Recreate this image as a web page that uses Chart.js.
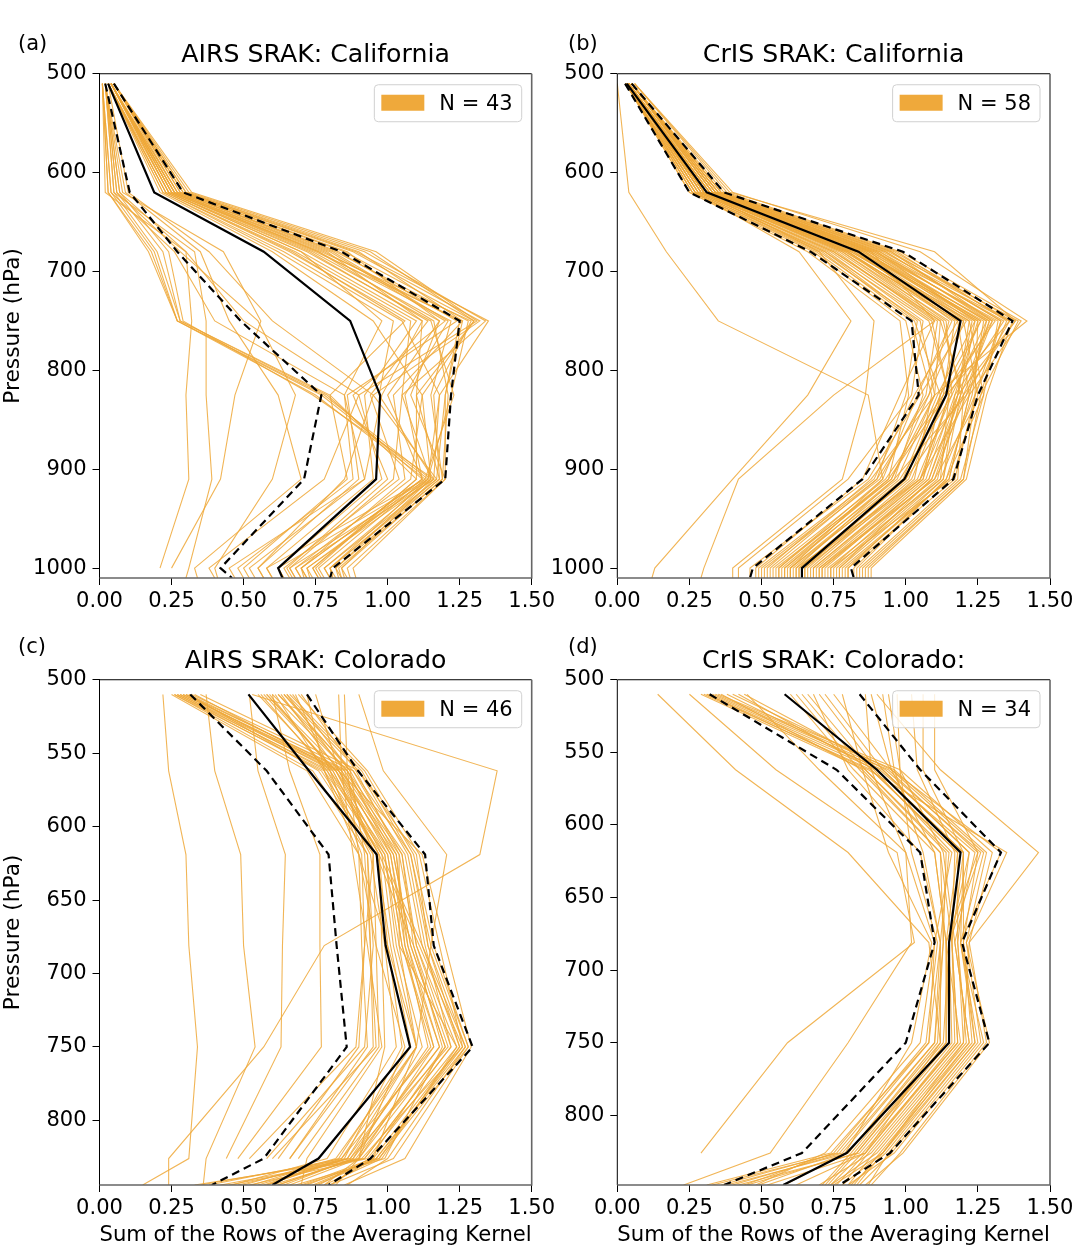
<!DOCTYPE html>
<html>
<head>
<meta charset="utf-8">
<title>SRAK profiles</title>
<script src="https://cdn.jsdelivr.net/npm/chart.js@4.4.1/dist/chart.umd.min.js"></script>
<style>
  body { margin: 0; background: #fff; width: 1076px; height: 1248px; overflow: hidden; position: relative; }
  canvas { position: absolute; left: 0; top: 0; }
</style>
</head>
<body>
<canvas id="chartA" width="1076" height="1248"></canvas>
<canvas id="chartB" width="1076" height="1248"></canvas>
<canvas id="chartC" width="1076" height="1248"></canvas>
<canvas id="chartD" width="1076" height="1248"></canvas>
<script>
// tick labels
const xTicks = [0, 0.25, 0.5, 0.75, 1.0, 1.25, 1.5];
const yTicksCA = [500, 600, 700, 800, 900, 1000];
const yTicksCO = [500, 550, 600, 650, 700, 750, 800];

// pressure levels (hPa) of each profile point; last one is the bottom edge of the plot
const levelsCA = [510, 620, 680, 750, 825, 910, 1000, 1010];
const levelsAirsCO = [510, 562, 619, 681, 750, 826, 844];
const levelsCrisCO = [510, 562, 619, 681, 750, 826, 848];

// (a) AIRS SRAK: California
const airsCAMean = [0.03, 0.19, 0.57, 0.87, 0.974, 0.96, 0.62, 0.635];
const airsCAHi   = [0.05, 0.29, 0.84, 1.25, 1.22, 1.20, 0.81, 0.80];
const airsCALo   = [0.02, 0.105, 0.27, 0.49, 0.77, 0.71, 0.42, 0.46];
const airsCA = [
  [0.03, 0.22, 0.62, 1.02, 0.97, 1.16, 0.72, 0.74],
  [0.03, 0.23, 0.66, 1.08, 1.05, 1.15, 0.78, 0.80],
  [0.04, 0.24, 0.70, 1.12, 1.10, 1.18, 0.82, 0.84],
  [0.04, 0.25, 0.74, 1.18, 1.00, 1.12, 0.70, 0.72],
  [0.04, 0.25, 0.76, 1.22, 1.15, 1.19, 0.84, 0.86],
  [0.04, 0.26, 0.78, 1.25, 1.20, 1.20, 0.86, 0.87],
  [0.05, 0.27, 0.82, 1.28, 1.22, 1.14, 0.80, 0.81],
  [0.05, 0.28, 0.85, 1.30, 1.10, 1.10, 0.75, 0.77],
  [0.05, 0.29, 0.88, 1.32, 0.95, 1.17, 0.80, 0.82],
  [0.05, 0.30, 0.92, 1.34, 1.05, 1.02, 0.66, 0.68],
  [0.05, 0.32, 0.96, 1.31, 0.90, 0.98, 0.62, 0.64],
  [0.04, 0.26, 0.80, 1.20, 0.88, 1.00, 0.65, 0.67],
  [0.04, 0.24, 0.72, 1.15, 1.23, 1.13, 0.76, 0.78],
  [0.03, 0.23, 0.68, 1.10, 0.92, 0.95, 0.58, 0.60],
  [0.03, 0.22, 0.64, 1.05, 1.18, 1.16, 0.84, 0.85],
  [0.04, 0.25, 0.75, 1.26, 1.02, 1.06, 0.70, 0.71],
  [0.04, 0.27, 0.83, 1.24, 0.86, 0.90, 0.55, 0.57],
  [0.05, 0.28, 0.86, 1.18, 1.08, 1.20, 0.88, 0.89],
  [0.04, 0.26, 0.79, 1.12, 0.98, 0.92, 0.52, 0.54],
  [0.03, 0.24, 0.70, 0.98, 0.85, 0.88, 0.48, 0.50],
  [0.03, 0.21, 0.60, 0.95, 1.12, 1.15, 0.82, 0.83],
  [0.04, 0.25, 0.77, 1.29, 1.16, 1.18, 0.80, 0.81],
  [0.05, 0.30, 0.90, 1.26, 1.20, 1.17, 0.78, 0.80],
  [0.04, 0.27, 0.81, 1.21, 1.06, 1.12, 0.74, 0.76],
  [0.05, 0.29, 0.89, 1.35, 1.18, 1.14, 0.72, 0.73],
  [0.03, 0.23, 0.67, 1.06, 0.80, 0.86, 0.50, 0.52],
  [0.04, 0.26, 0.76, 1.16, 1.21, 1.19, 0.83, 0.84],
  [0.05, 0.31, 0.94, 1.30, 1.12, 1.08, 0.68, 0.70],
  [0.04, 0.24, 0.73, 1.14, 0.94, 1.04, 0.64, 0.66],
  [0.01, 0.03, 0.18, 0.27, 0.77, 1.14, 0.62, 0.64],
  [0.01, 0.04, 0.19, 0.27, 0.78, 1.15, 0.66, 0.68],
  [0.02, 0.05, 0.20, 0.28, 0.79, 1.12, 0.70, 0.72],
  [0.01, 0.03, 0.17, 0.27, 0.75, 1.13, 0.58, 0.60],
  [0.02, 0.06, 0.22, 0.28, 0.80, 1.10, 0.74, 0.76],
  [0.02, 0.07, 0.24, 0.29, 0.74, 1.16, 0.68, 0.70],
  [0.01, 0.02, 0.30, 0.32, 0.30, 0.31, 0.21, null],
  [0.02, 0.05, 0.33, 0.37, 0.37, 0.39, 0.31, 0.30],
  [0.02, 0.08, 0.43, 0.56, 0.47, 0.42, 0.25, null],
  [0.02, 0.06, 0.28, 0.55, 0.68, 0.60, 0.40, 0.41],
  [0.02, 0.09, 0.35, 0.45, 0.62, 0.70, 0.33, 0.34],
  [0.01, 0.04, 0.26, 0.40, 0.85, 0.92, 0.45, 0.47],
  [0.02, 0.07, 0.30, 0.50, 0.90, 0.78, 0.38, 0.40],
  [0.03, 0.10, 0.38, 0.60, 0.95, 0.85, 0.55, 0.57]
];

// (b) CrIS SRAK: California
const crisCAMean = [0.033, 0.31, 0.836, 1.19, 1.14, 0.995, 0.64, 0.64];
const crisCAHi   = [0.05, 0.37, 0.99, 1.37, 1.25, 1.165, 0.81, 0.82];
const crisCALo   = [0.027, 0.25, 0.67, 1.02, 1.045, 0.85, 0.47, 0.46];
const crisCA = [
  [0.03, 0.26, 0.70, 1.05, 1.10, 0.95, 0.55, 0.55],
  [0.03, 0.27, 0.72, 1.08, 1.15, 1.05, 0.62, 0.62],
  [0.03, 0.28, 0.75, 1.12, 1.20, 1.10, 0.70, 0.70],
  [0.04, 0.29, 0.78, 1.15, 1.08, 0.90, 0.50, 0.50],
  [0.04, 0.30, 0.80, 1.18, 1.22, 1.15, 0.78, 0.78],
  [0.04, 0.30, 0.82, 1.20, 1.12, 1.00, 0.65, 0.65],
  [0.04, 0.31, 0.84, 1.22, 1.18, 1.08, 0.72, 0.72],
  [0.04, 0.32, 0.86, 1.25, 1.24, 1.12, 0.76, 0.76],
  [0.05, 0.33, 0.88, 1.28, 1.16, 0.98, 0.60, 0.60],
  [0.05, 0.34, 0.90, 1.30, 1.20, 1.18, 0.84, 0.84],
  [0.05, 0.35, 0.93, 1.33, 1.26, 1.20, 0.86, 0.86],
  [0.05, 0.36, 0.95, 1.36, 1.14, 0.94, 0.58, 0.58],
  [0.06, 0.38, 0.98, 1.40, 1.22, 1.05, 0.68, 0.68],
  [0.06, 0.40, 1.05, 1.42, 1.10, 0.88, 0.52, 0.52],
  [0.04, 0.31, 0.83, 1.16, 1.04, 0.92, 0.56, 0.56],
  [0.03, 0.28, 0.76, 1.10, 0.98, 0.85, 0.48, 0.48],
  [0.04, 0.30, 0.81, 1.24, 1.19, 1.13, 0.80, 0.80],
  [0.05, 0.33, 0.87, 1.26, 1.14, 1.02, 0.66, 0.66],
  [0.04, 0.29, 0.79, 1.20, 1.25, 1.16, 0.74, 0.74],
  [0.05, 0.34, 0.91, 1.34, 1.17, 1.07, 0.70, 0.70],
  [0.03, 0.25, 0.68, 1.00, 1.06, 0.96, 0.62, 0.62],
  [0.04, 0.32, 0.85, 1.29, 1.21, 1.09, 0.77, 0.77],
  [0.05, 0.35, 0.92, 1.37, 1.28, 1.21, 0.88, 0.88],
  [0.04, 0.30, 0.80, 1.14, 1.16, 1.04, 0.64, 0.64],
  [0.03, 0.27, 0.73, 1.06, 1.02, 0.80, 0.42, 0.42],
  [0.05, 0.36, 0.96, 1.38, 1.20, 1.00, 0.60, 0.60],
  [0.04, 0.31, 0.84, 1.27, 1.23, 1.14, 0.82, 0.82],
  [0.04, 0.29, 0.77, 1.12, 1.10, 0.97, 0.58, 0.58],
  [0.05, 0.34, 0.89, 1.31, 1.13, 0.93, 0.54, 0.54],
  [0.04, 0.32, 0.86, 1.23, 1.18, 1.11, 0.75, 0.75],
  [0.03, 0.26, 0.71, 1.03, 1.12, 1.06, 0.68, 0.68],
  [0.05, 0.37, 0.97, 1.35, 1.24, 1.17, 0.80, 0.80],
  [0.04, 0.30, 0.82, 1.19, 1.08, 0.95, 0.57, 0.57],
  [0.04, 0.28, 0.74, 1.09, 1.15, 1.12, 0.73, 0.73],
  [0.05, 0.33, 0.88, 1.32, 1.27, 1.19, 0.85, 0.85],
  [0.04, 0.31, 0.83, 1.21, 1.05, 0.87, 0.46, 0.46],
  [0.03, 0.27, 0.72, 1.04, 1.00, 0.90, 0.53, 0.53],
  [0.05, 0.35, 0.94, 1.39, 1.26, 1.10, 0.71, 0.71],
  [0.04, 0.29, 0.79, 1.17, 1.13, 1.01, 0.63, 0.63],
  [0.04, 0.32, 0.87, 1.28, 1.22, 1.15, 0.79, 0.79],
  [0.05, 0.34, 0.90, 1.24, 1.11, 0.99, 0.61, 0.61],
  [0.03, 0.26, 0.69, 1.02, 1.09, 1.03, 0.67, 0.67],
  [0.04, 0.30, 0.81, 1.22, 1.27, 1.14, 0.83, 0.83],
  [0.05, 0.36, 0.95, 1.30, 1.15, 1.06, 0.69, 0.69],
  [0.04, 0.29, 0.78, 1.13, 1.19, 1.08, 0.71, 0.71],
  [0.05, 0.33, 0.89, 1.36, 1.21, 0.96, 0.59, 0.59],
  [0.04, 0.31, 0.84, 1.25, 1.17, 1.13, 0.77, 0.77],
  [0.04, 0.28, 0.75, 1.11, 1.07, 0.91, 0.51, 0.51],
  [0.05, 0.35, 0.93, 1.33, 1.24, 1.20, 0.87, 0.87],
  [0.04, 0.30, 0.80, 1.18, 1.03, 0.89, 0.49, 0.49],
  [0.06, 0.39, 1.10, 1.38, 1.18, 1.05, 0.65, 0.65],
  [0.03, 0.25, 0.66, 0.98, 1.01, 0.94, 0.56, 0.56],
  [0.04, 0.32, 0.85, 1.26, 1.12, 1.00, 0.63, 0.63],
  [0.05, 0.34, 0.91, 1.29, 1.19, 1.09, 0.74, 0.74],
  [0.00, 0.04, 0.17, 0.35, 0.87, 0.92, 0.60, 0.60],
  [0.03, 0.27, 0.63, 0.81, 0.66, 0.40, 0.13, 0.12],
  [0.03, 0.30, 0.70, 0.89, 0.86, 0.78, 0.40, 0.40],
  [0.04, 0.33, 0.88, 1.10, 0.75, 0.42, 0.30, 0.29]
];

// (c) AIRS SRAK: Colorado
const airsCOMean = [0.517, 0.727, 0.962, 0.993, 1.078, 0.76, 0.60];
const airsCOHi   = [0.72, 0.897, 1.13, 1.16, 1.295, 0.94, 0.795];
const airsCOLo   = [0.315, 0.58, 0.795, 0.823, 0.858, 0.57, 0.39];
const airsCO = [
  [0.22, 0.24, 0.30, 0.31, 0.34, 0.31, 0.15],
  [0.37, 0.40, 0.49, 0.50, 0.54, 0.37, 0.36],
  [0.52, 0.55, 0.645, 0.635, 0.63, 0.44, null],
  [0.60, 0.66, 0.765, 0.765, 0.77, 0.48, null],
  [0.90, 0.985, 1.205, 1.15, 1.10, 0.95, 0.80],
  [0.53, 1.38, 1.32, 0.78, 0.57, 0.24, 0.24],
  [0.26, 0.78, 0.98, 1.02, 1.10, 0.82, 0.50],
  [0.27, 0.80, 1.00, 1.05, 1.15, 0.86, 0.55],
  [0.28, 0.82, 1.02, 1.08, 1.20, 0.90, 0.60],
  [0.29, 0.84, 1.04, 1.10, 1.22, 0.92, 0.45],
  [0.30, 0.86, 1.06, 1.12, 1.25, 0.95, 0.70],
  [0.31, 0.76, 0.95, 0.92, 0.90, 0.62, null],
  [0.32, 0.88, 1.08, 1.15, 1.28, 0.97, 0.75],
  [0.26, 0.74, 0.93, 0.94, 0.95, 0.66, null],
  [0.33, 0.83, 1.01, 1.06, 1.18, 0.88, 0.62],
  [0.28, 0.79, 0.99, 1.04, 1.24, 0.93, 0.52],
  [0.30, 0.81, 0.97, 1.11, 1.26, 0.91, 0.33],
  [0.27, 0.77, 0.96, 1.09, 1.21, 0.87, 0.48],
  [0.35, 0.90, 1.10, 1.14, 1.27, 0.96, 0.72],
  [0.29, 0.83, 1.03, 1.07, 1.16, 0.84, 0.38],
  [0.31, 0.85, 1.05, 1.09, 1.19, 0.99, 0.68],
  [0.25, 0.72, 0.90, 1.00, 1.10, 0.86, 0.58],
  [0.55, 0.80, 0.97, 1.00, 1.05, 0.85, 0.58],
  [0.57, 0.82, 0.99, 1.03, 1.12, 0.88, 0.64],
  [0.58, 0.84, 1.00, 1.05, 1.16, 0.90, 0.82],
  [0.60, 0.86, 1.02, 1.08, 1.20, 0.94, 0.76],
  [0.61, 0.78, 0.93, 0.95, 0.92, 0.58, null],
  [0.62, 0.88, 1.05, 1.10, 1.24, 0.98, 0.78],
  [0.63, 0.83, 0.98, 1.12, 1.27, 1.00, 0.86],
  [0.64, 0.90, 1.07, 1.13, 1.22, 0.92, 0.42],
  [0.65, 0.85, 0.95, 0.96, 0.97, 0.69, null],
  [0.66, 0.92, 1.09, 1.16, 1.28, 1.02, 0.80],
  [0.67, 0.87, 1.03, 1.06, 1.14, 0.87, 0.35],
  [0.68, 0.80, 0.91, 0.92, 0.89, 0.52, null],
  [0.69, 0.93, 1.11, 1.18, 1.26, 0.96, 0.74],
  [0.70, 0.89, 1.04, 1.04, 1.10, 0.84, 0.57],
  [0.59, 0.81, 0.96, 1.01, 1.08, 0.83, 0.53],
  [0.62, 0.86, 1.01, 1.07, 1.18, 0.89, 0.62],
  [0.65, 0.91, 1.08, 1.14, 1.25, 0.97, 0.71],
  [0.56, 0.79, 0.94, 0.99, 1.03, 0.79, 0.46],
  [0.64, 0.87, 0.92, 0.94, 0.96, 0.60, null],
  [0.83, 0.84, 0.88, 0.93, 0.98, 0.72, 0.70],
  [0.85, 0.86, 0.90, 0.96, 1.06, 0.90, 0.66],
  [0.72, 0.78, 0.90, 0.91, 0.93, 0.66, null],
  [0.75, 0.83, 1.12, 1.20, 1.29, 1.06, 0.85],
  [0.58, 0.82, 0.97, 0.98, 0.99, 0.90, 0.78]
];

// (d) CrIS SRAK: Colorado
const crisCOMean = [0.58, 0.90, 1.19, 1.15, 1.15, 0.795, 0.575];
const crisCOHi   = [0.84, 1.05, 1.33, 1.195, 1.29, 0.945, 0.77];
const crisCOLo   = [0.32, 0.76, 1.05, 1.10, 1.00, 0.64, 0.37];
const crisCO = [
  [0.14, 0.41, 0.80, 1.08, 1.12, 0.86, 0.62],
  [0.25, 0.55, 0.97, 1.03, 0.59, 0.29, null],
  [0.45, 0.70, 1.00, 1.02, 0.80, 0.53, 0.23],
  [0.29, 0.86, 1.15, 1.12, 1.12, 0.80, 0.38],
  [0.30, 0.88, 1.18, 1.14, 1.15, 0.83, 0.45],
  [0.31, 0.90, 1.20, 1.16, 1.18, 0.86, 0.52],
  [0.32, 0.92, 1.22, 1.18, 1.20, 0.88, 0.70],
  [0.33, 0.94, 1.25, 1.20, 1.24, 0.92, 0.78],
  [0.34, 0.96, 1.28, 1.21, 1.26, 0.95, 0.84],
  [0.35, 0.98, 1.30, 1.22, 1.28, 0.98, 0.88],
  [0.36, 0.85, 1.12, 1.13, 1.10, 0.77, 0.33],
  [0.38, 0.91, 1.24, 1.17, 1.22, 0.90, 0.74],
  [0.40, 0.95, 1.33, 1.19, 1.27, 0.96, 0.80],
  [0.42, 0.89, 1.16, 1.10, 1.08, 0.74, 0.31],
  [0.44, 0.93, 1.26, 1.15, 1.16, 0.84, 0.42],
  [0.31, 0.87, 1.35, 1.21, 1.29, 0.99, 0.86],
  [0.60, 0.82, 1.10, 1.14, 1.14, 0.82, 0.72],
  [0.62, 0.84, 1.12, 1.16, 1.17, 0.86, 0.76],
  [0.64, 0.86, 1.14, 1.13, 1.11, 0.80, 0.49],
  [0.66, 0.88, 1.18, 1.18, 1.21, 0.89, 0.80],
  [0.68, 0.80, 1.05, 1.12, 1.08, 0.76, 0.36],
  [0.70, 0.90, 1.20, 1.20, 1.23, 0.91, 0.82],
  [0.72, 0.92, 1.22, 1.15, 1.13, 0.81, 0.71],
  [0.75, 0.95, 1.27, 1.19, 1.25, 0.94, 0.87],
  [0.86, 0.88, 1.00, 1.10, 1.05, 0.72, 0.48],
  [0.88, 0.95, 1.10, 1.14, 1.19, 0.87, 0.78],
  [0.92, 0.96, 1.06, 1.12, 1.10, 0.78, 0.40],
  [0.94, 0.98, 1.13, 1.17, 1.22, 0.92, 0.83],
  [0.97, 0.98, 1.02, 1.11, 1.07, 0.75, 0.44],
  [1.02, 1.04, 1.17, 1.16, 1.18, 0.85, 0.74],
  [1.06, 1.06, 1.20, 1.19, 1.24, 0.93, 0.81],
  [1.10, 1.10, 1.25, 1.14, 1.14, 0.83, 0.73],
  [0.78, 0.85, 0.94, 1.09, 1.02, 0.79, 0.58],
  [0.90, 1.12, 1.46, 1.22, 1.20, 0.92, 0.75]
];

const profileColor = 'rgba(239, 168, 56, 0.85)';
const patchColor = '#EFA93B';
const baseFont = '"DejaVu Sans", sans-serif';

Chart.defaults.font.family = baseFont;
Chart.defaults.font.size = 21;
Chart.defaults.color = '#000';

// frame, panel letter and the "N = .." legend box
const decor = {
  id: 'decor',
  afterDraw(chart, args, o) {
    const { ctx, chartArea: a } = chart;
    ctx.save();
    ctx.lineWidth = 1;
    ctx.strokeStyle = '#000';
    ctx.beginPath();
    ctx.moveTo(a.right, a.top);
    ctx.lineTo(a.left, a.top);
    ctx.lineTo(a.left, a.bottom);
    ctx.stroke();
    ctx.lineWidth = 1.6;
    ctx.strokeStyle = '#666';
    ctx.beginPath();
    ctx.moveTo(a.left, a.bottom);
    ctx.lineTo(a.right, a.bottom);
    ctx.lineTo(a.right, a.top);
    ctx.stroke();

    ctx.font = '21px ' + baseFont;
    ctx.fillStyle = '#000';
    ctx.textBaseline = 'middle';
    ctx.textAlign = 'left';
    ctx.fillText(o.label, o.labelX, o.labelY);

    const tw = ctx.measureText(o.legend).width;
    const w = 7 + 43 + 15 + tw + 9, h = 37;
    const x = a.right - 10 - w, y = a.top + 11;
    ctx.beginPath();
    ctx.roundRect(x, y, w, h, 4);
    ctx.fillStyle = 'rgba(255,255,255,0.8)';
    ctx.fill();
    ctx.lineWidth = 1;
    ctx.strokeStyle = '#d0d0d0';
    ctx.stroke();
    ctx.fillStyle = patchColor;
    ctx.fillRect(x + 7, y + 10, 43, 16);
    ctx.fillStyle = '#000';
    ctx.fillText(o.legend, x + 65, y + h / 2 + 1);
    ctx.restore();
  }
};

function profilePoints(levels, values) {
  const pts = [];
  values.forEach((v, i) => {
    if (v !== null) pts.push({ x: v, y: levels[i] });
  });
  return pts;
}

function makePanel(id, cfg) {
  const line = { showLine: true, pointRadius: 0, fill: false, tension: 0 };
  const datasets = [
    { ...line, data: profilePoints(cfg.levels, cfg.mean), borderColor: '#000', borderWidth: 2.2 },
    { ...line, data: profilePoints(cfg.levels, cfg.hi), borderColor: '#000', borderWidth: 2.2, borderDash: [8, 5] },
    { ...line, data: profilePoints(cfg.levels, cfg.lo), borderColor: '#000', borderWidth: 2.2, borderDash: [8, 5] }
  ];
  cfg.profiles.forEach(p => {
    datasets.push({ ...line, data: profilePoints(cfg.levels, p), borderColor: profileColor, borderWidth: 1.1 });
  });

  new Chart(document.getElementById(id), {
    type: 'scatter',
    data: { datasets },
    options: {
      responsive: false,
      animation: false,
      events: [],
      layout: { padding: cfg.pad },
      plugins: {
        legend: { display: false },
        tooltip: { enabled: false },
        title: {
          display: true,
          text: cfg.title,
          fullSize: false,
          color: '#000',
          font: { size: 25.2, weight: 'normal' },
          padding: { top: cfg.titleTop, bottom: cfg.titleBottom }
        },
        decor: { label: cfg.label, labelX: cfg.labelX, labelY: cfg.labelY, legend: 'N = ' + cfg.profiles.length }
      },
      scales: {
        x: {
          type: 'linear',
          min: 0,
          max: 1.5,
          afterBuildTicks: s => { s.ticks = xTicks.map(v => ({ value: v })); },
          afterFit: s => { s.height = cfg.xHeight; s.paddingLeft = 0; s.paddingRight = 0; },
          ticks: { padding: 4, maxRotation: 0, autoSkip: false, callback: v => Number(v).toFixed(2) },
          grid: { drawOnChartArea: false, drawTicks: true, tickLength: 7, color: '#000', tickColor: '#000', tickWidth: 1 },
          border: { display: false },
          title: {
            display: cfg.xTitle,
            text: 'Sum of the Rows of the Averaging Kernel',
            font: { size: 21.7 },
            padding: { top: 0, bottom: 0 }
          }
        },
        y: {
          type: 'linear',
          reverse: true,
          min: 500,
          max: cfg.yMax,
          afterBuildTicks: s => { s.ticks = cfg.yTicks.map(v => ({ value: v })); },
          afterFit: s => { s.width = cfg.yWidth; s.paddingTop = 0; s.paddingBottom = 0; },
          ticks: { padding: 6, autoSkip: false, callback: v => String(v) },
          grid: { drawOnChartArea: false, drawTicks: true, tickLength: 7, color: '#000', tickColor: '#000', tickWidth: 1 },
          border: { display: false },
          title: {
            display: cfg.yTitle,
            text: 'Pressure (hPa)',
            font: { size: 21.7 },
            padding: { top: 0, bottom: 0 }
          }
        }
      }
    },
    plugins: [decor]
  });
}

makePanel('chartA', {
  title: 'AIRS SRAK: California', label: '(a)', labelX: 18, labelY: 45,
  levels: levelsCA, mean: airsCAMean, hi: airsCAHi, lo: airsCALo, profiles: airsCA,
  yMax: 1010, yTicks: yTicksCA,
  pad: { left: 0, right: 544.3, top: 0, bottom: 624 },
  titleTop: 40, titleBottom: 3.5, yWidth: 99.5, xHeight: 46, yTitle: true, xTitle: false
});

makePanel('chartB', {
  title: 'CrIS SRAK: California', label: '(b)', labelX: 568, labelY: 45,
  levels: levelsCA, mean: crisCAMean, hi: crisCAHi, lo: crisCALo, profiles: crisCA,
  yMax: 1010, yTicks: yTicksCA,
  pad: { left: 538, right: 26, top: 0, bottom: 624 },
  titleTop: 40, titleBottom: 3.5, yWidth: 79.3, xHeight: 46, yTitle: false, xTitle: false
});

makePanel('chartC', {
  title: 'AIRS SRAK: Colorado', label: '(c)', labelX: 18, labelY: 648,
  levels: levelsAirsCO, mean: airsCOMean, hi: airsCOHi, lo: airsCOLo, profiles: airsCO,
  yMax: 844, yTicks: yTicksCO,
  pad: { left: 0, right: 544.3, top: 624, bottom: 0 },
  titleTop: 22, titleBottom: 3.5, yWidth: 99.5, xHeight: 63, yTitle: true, xTitle: true
});

makePanel('chartD', {
  title: 'CrIS SRAK: Colorado:', label: '(d)', labelX: 568, labelY: 648,
  levels: levelsCrisCO, mean: crisCOMean, hi: crisCOHi, lo: crisCOLo, profiles: crisCO,
  yMax: 848, yTicks: yTicksCO,
  pad: { left: 538, right: 26, top: 624, bottom: 0 },
  titleTop: 22, titleBottom: 3.5, yWidth: 79.3, xHeight: 63, yTitle: false, xTitle: true
});
</script>
</body>
</html>
